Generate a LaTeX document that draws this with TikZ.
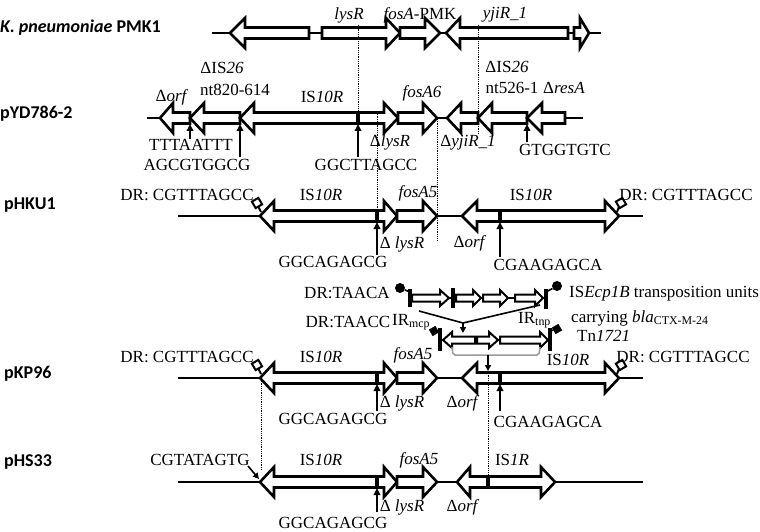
\documentclass[tikz,border=0pt]{standalone}
\usepackage{fontspec}
\setmainfont{Liberation Serif}
\newfontfamily\lblfont{Carlito}
\usetikzlibrary{arrows.meta}
\def\bh{5.5}\def\hh{15}
\def\sbh{3.5}\def\shh{8}
% tail, head base, tip, y
\newcommand\genearr[4]{\draw[gbox] (#1,#4-\bh) -- (#2,#4-\bh) -- (#2,#4-\hh) -- (#3,#4) -- (#2,#4+\hh) -- (#2,#4+\bh) -- (#1,#4+\bh) -- cycle;}
\newcommand\sgenearr[4]{\draw[sgbox] (#1,#4-\sbh) -- (#2,#4-\sbh) -- (#2,#4-\shh) -- (#3,#4) -- (#2,#4+\shh) -- (#2,#4+\sbh) -- (#1,#4+\sbh) -- cycle;}
\newcommand\genebar[2]{\draw[barln] (#1,#2-\bh-1.5) -- (#1,#2+\bh+1.5);}
\begin{document}
\begin{tikzpicture}[x=1pt,y=-1pt,
 gbox/.style={line width=2.6pt, line join=miter, fill=white},
 sgbox/.style={line width=2pt, line join=miter, fill=white},
 bbl/.style={line width=2.6pt},
 sbbl/.style={line width=2pt},
 barln/.style={line width=3.6pt},
 dotln/.style={densely dotted, line width=0.8pt},
 uparr/.style={line width=1.8pt, -{Triangle[length=7pt,width=6.5pt]}},
 lab/.style={font=\fontsize{17}{19}\selectfont, inner sep=0pt},
 rowlab/.style={font=\lblfont\bfseries\fontsize{18}{20}\selectfont, anchor=west, inner sep=0pt},
 drbox/.style={draw, line width=2pt, fill=white, minimum size=7.5pt, inner sep=0pt, rotate=30},
 fbox/.style={draw, fill=black, minimum size=7pt, inner sep=0pt, rotate=30},
 bracket/.style={draw=gray!80, line width=1.5pt, rounded corners=2pt},
]
\useasboundingbox (0,0) rectangle (760,532);

% ---------- backbones ----------
\draw[bbl] (212,33) -- (601,33);
\draw[bbl] (147,118) -- (583,118);
\draw[bbl] (178,216) -- (643,216);
\draw[bbl] (178,378) -- (643,378);
\draw[bbl] (178,482) -- (643,482);

% ---------- row 1 : K. pneumoniae PMK1 ----------
\genearr{309}{245}{230}{33}
\genearr{322}{386}{400}{33}
\genearr{400}{425}{440}{33}
\genearr{568}{460}{446}{33}
\genearr{574}{580}{589}{33}

% ---------- row 2 : pYD786-2 ----------
\genearr{190}{173}{160}{118}
\genearr{240}{204}{190}{118}
\genearr{358}{254}{240}{118}
\genearr{358}{384}{398}{118}
\genearr{398}{423}{437}{118}
\genearr{478}{461}{447}{118}
\genearr{527}{492}{478}{118}
\genearr{565}{542}{527}{118}
\genebar{358}{118}

% ---------- row 3 : pHKU1 ----------
\genearr{377}{274}{260}{216}
\genearr{377}{384}{397}{216}
\genearr{397}{423}{437}{216}
\genearr{500}{477}{462}{216}
\genearr{500}{605}{619}{216}
\genebar{377}{216}
\genebar{500}{216}

% ---------- row 4 : pKP96 ----------
\genearr{377}{274}{260}{378}
\genearr{377}{384}{397}{378}
\genearr{397}{423}{437}{378}
\genearr{500}{477}{462}{378}
\genearr{500}{605}{619}{378}
\genebar{377}{378}
\genebar{500}{378}

% ---------- row 5 : pHS33 ----------
\genearr{377}{274}{260}{482}
\genearr{377}{384}{397}{482}
\genearr{397}{423}{437}{482}
\genearr{488}{470}{457}{482}
\genearr{488}{541}{555}{482}
\genebar{377}{482}
\genebar{488}{482}

% ---------- DR boxes ----------
\coordinate (t3l) at (261,212);
\coordinate (t3r) at (617,212);
\coordinate (t4l) at (261,374);
\coordinate (t4r) at (617,374);
\draw[line width=2pt] (t3l) -- (257,204);
\draw[line width=2pt] (t3r) -- (620,204);
\draw[line width=2pt] (t4l) -- (257,366);
\draw[line width=2pt] (t4r) -- (620,366);
\node[drbox] (dr3l) at (257,203) {};
\node[drbox] (dr3r) at (621,203) {};
\node[drbox] (dr4l) at (257,365) {};
\node[drbox] (dr4r) at (621,365) {};

% ---------- ISEcp1B units ----------
\draw[sbbl] (410,298) -- (546,298);
\sgenearr{412}{440}{449}{298}
\sgenearr{456}{473}{481}{298}
\sgenearr{483}{500}{508}{298}
\sgenearr{515}{535}{543}{298}
\draw[barln] (410,289) -- (410,307);
\draw[barln] (453,288) -- (453,308);
\draw[barln] (546,289) -- (546,309);
\node[circle, fill=black, minimum size=10pt, inner sep=0pt] (c1) at (400,288) {};
\node[circle, fill=black, minimum size=10pt, inner sep=0pt] (c2) at (557,286) {};
\coordinate (b1) at (410,292);
\coordinate (b2) at (546,292);
\draw[line width=1.6pt] (c1) -- (b1);
\draw[line width=1.6pt] (c2) -- (b2);

\draw[sbbl] (440,340) -- (550,340);
\sgenearr{475}{452}{443}{340}
\sgenearr{477}{489}{498}{340}
\sgenearr{500}{540}{548}{340}
\draw[barln] (440,328) -- (440,351);
\draw[barln] (550,328) -- (550,351);
\node[fbox] (s1) at (434,331) {};
\node[fbox] (s2) at (557,329) {};
\coordinate (b3) at (440,331);
\coordinate (b4) at (550,331);
\draw[line width=1.6pt] (s1) -- (b3);
\draw[line width=1.6pt] (s2) -- (b4);

% V lines
\coordinate (v1) at (419,311);
\coordinate (v2) at (540,305);
\coordinate (vm) at (463,323);
\coordinate (vt) at (463,333);
\draw[line width=1.6pt] (v1) -- (vm);
\draw[line width=1.6pt] (v2) -- (vm);
\draw[line width=1.6pt, -{Triangle[length=6pt,width=6pt]}] (vm) -- (vt);

% bracket
\draw[bracket] (452,347) -- (453,355) -- (539,355) -- (540,347);
\coordinate (brm) at (488,355);
\coordinate (brt) at (488,371);
\draw[line width=1.6pt, -{Triangle[length=6pt,width=6pt]}] (brm) -- (brt);

% ---------- dotted guide lines ----------
\draw[dotln] (358,25) -- (358,112);
\draw[dotln] (478,25) -- (478,134);
\draw[dotln] (377,112) -- (377,232);
\draw[dotln] (437,119) -- (437,240);
\draw[dotln] (261,379) -- (261,470);
\draw[dotln] (488,371) -- (488,486);

% ---------- row labels ----------
\node[rowlab] (r1) at (0,28) {\textit{K. pneumoniae} PMK1};
\node[rowlab] (r2) at (0,114) {pYD786-2};
\node[rowlab] (r3) at (4,205) {pHKU1};
\node[rowlab] (r4) at (4,374) {pKP96};
\node[rowlab] (r5) at (4,462) {pHS33};

% ---------- row 1 labels ----------
\node[lab] (l1a) at (349,15) {\textit{lysR}};
\node[lab] (l1b) at (420,15) {\textit{fosA}-PMK};
\node[lab] (l1c) at (505,15) {\textit{yjiR\_1}};

% ---------- row 2 labels ----------
\node[lab] (l2a) at (172,97) {Δ\textit{orf}};
\node[lab] (l2b) at (222,68) {ΔIS\textit{26}};
\node[lab] (l2c) at (235,90) {nt820-614};
\node[lab] (l2d) at (322,97) {IS\textit{10R}};
\node[lab] (l2e) at (422,93) {\textit{fosA6}};
\node[lab] (l2f) at (507,67) {ΔIS\textit{26}};
\node[lab] (l2g) at (512,88) {nt526-1};
\node[lab] (l2h) at (564,88) {Δ\textit{resA}};
\node[lab] (l2i) at (191,145) {TTTAATTT};
\node[lab] (l2j) at (197,165) {AGCGTGGCG};
\node[lab] (l2k) at (366,165) {GGCTTAGCC};
\node[lab] (l2l) at (390,142) {Δ\textit{lysR}};
\node[lab] (l2m) at (468,143) {Δ\textit{yjiR\_1}};
\node[lab] (l2n) at (565,150) {GTGGTGTC};
\coordinate (a2s1) at (190,139); \coordinate (a2e1) at (190,124);
\coordinate (a2s2) at (240,157); \coordinate (a2e2) at (240,124);
\coordinate (a2s3) at (358,157); \coordinate (a2e3) at (358,124);
\coordinate (a2s4) at (527,142); \coordinate (a2e4) at (527,124);
\draw[uparr] (a2s1) -- (a2e1);
\draw[uparr] (a2s2) -- (a2e2);
\draw[uparr] (a2s3) -- (a2e3);
\draw[uparr] (a2s4) -- (a2e4);

% ---------- row 3 labels ----------
\node[lab] (l3a) at (187,195) {DR: CGTTTAGCC};
\node[lab] (l3b) at (321,195) {IS\textit{10R}};
\node[lab] (l3c) at (418,193) {\textit{fosA5}};
\node[lab] (l3d) at (531,195) {IS\textit{10R}};
\node[lab] (l3e) at (686,195) {DR: CGTTTAGCC};
\node[lab] (l3f) at (333,262) {GGCAGAGCG};
\node[lab] (l3g) at (402,244) {Δ \textit{lysR}};
\node[lab] (l3h) at (470,243) {Δ\textit{orf}};
\node[lab] (l3i) at (548,265) {CGAAGAGCA};
\coordinate (a3s1) at (377,255); \coordinate (a3e1) at (377,222);
\coordinate (a3s2) at (500,257); \coordinate (a3e2) at (500,222);
\draw[uparr] (a3s1) -- (a3e1);
\draw[uparr] (a3s2) -- (a3e2);

% ---------- ISEcp1B labels ----------
\node[lab] (le1) at (347,293) {DR:TAACA};
\node[lab] (le2) at (348,322) {DR:TAACC};
\node[lab, anchor=west] (le3) at (392,322) {IR\textsubscript{mcp}};
\node[lab, anchor=west] (le4) at (518,320) {IR\textsubscript{tnp}};
\node[lab, anchor=west] (le5) at (569,294) {IS\textit{Ecp1B} transposition units};
\node[lab, anchor=west] (le6) at (571,318) {carrying \textit{bla}\textsubscript{CTX-M-24}};
\node[lab, anchor=west] (le7) at (577,336) {Tn\textit{1721}};

% ---------- row 4 labels ----------
\node[lab] (l4a) at (187,357) {DR: CGTTTAGCC};
\node[lab] (l4b) at (321,357) {IS\textit{10R}};
\node[lab] (l4c) at (413,355) {\textit{fosA5}};
\node[lab] (l4d) at (568,360) {IS\textit{10R}};
\node[lab] (l4e) at (683,357) {DR: CGTTTAGCC};
\node[lab] (l4f) at (333,419) {GGCAGAGCG};
\node[lab] (l4g) at (402,403) {Δ \textit{lysR}};
\node[lab] (l4h) at (463,403) {Δ\textit{orf}};
\node[lab] (l4i) at (548,422) {CGAAGAGCA};
\coordinate (a4s1) at (377,411); \coordinate (a4e1) at (377,384);
\coordinate (a4s2) at (500,411); \coordinate (a4e2) at (500,384);
\draw[uparr] (a4s1) -- (a4e1);
\draw[uparr] (a4s2) -- (a4e2);

% ---------- row 5 labels ----------
\node[lab] (l5a) at (200,460) {CGTATAGTG};
\node[lab] (l5b) at (321,460) {IS\textit{10R}};
\node[lab] (l5c) at (419,460) {\textit{fosA5}};
\node[lab] (l5d) at (512,460) {IS\textit{1R}};
\node[lab] (l5e) at (402,507) {Δ \textit{lysR}};
\node[lab] (l5f) at (463,507) {Δ\textit{orf}};
\node[lab] (l5g) at (333,523) {GGCAGAGCG};
\coordinate (a5s1) at (377,512); \coordinate (a5e1) at (377,488);
\draw[uparr] (a5s1) -- (a5e1);
\coordinate (a5s2) at (248,466); \coordinate (a5e2) at (259,479);
\draw[line width=1.6pt, -{Triangle[length=6pt,width=6pt]}] (a5s2) -- (a5e2);
\end{tikzpicture}
\end{document}
